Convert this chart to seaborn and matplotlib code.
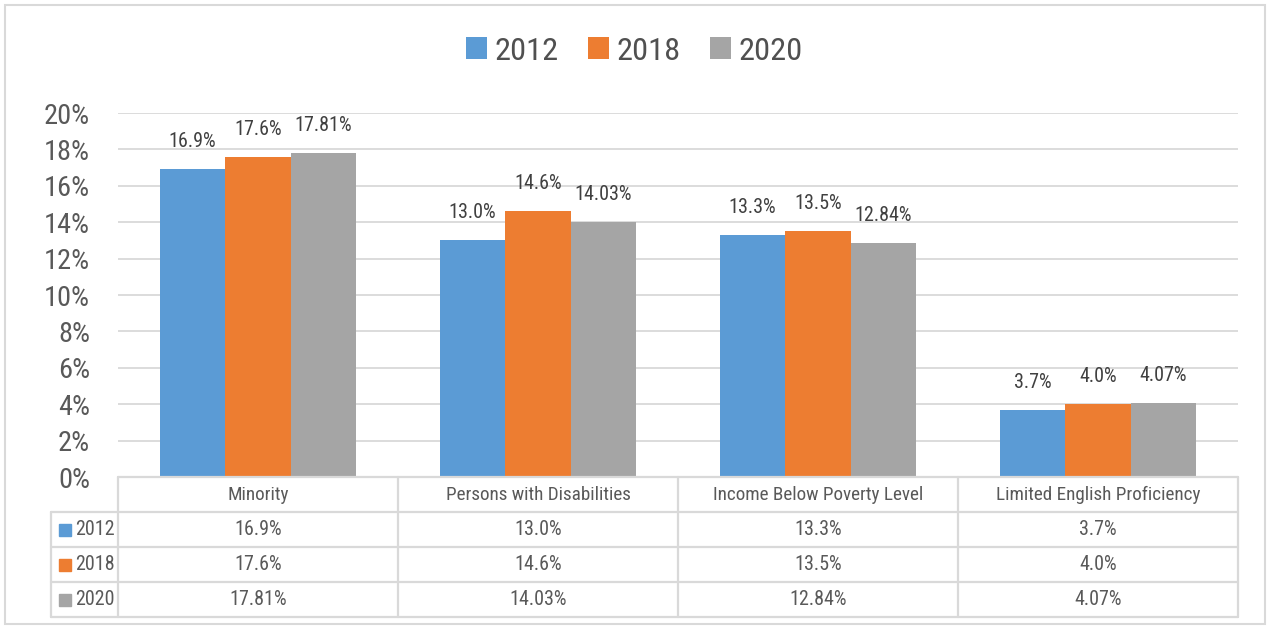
import numpy as np
import pandas as pd
import seaborn as sns
import matplotlib
matplotlib.use("Agg")
import matplotlib.pyplot as plt
from matplotlib import font_manager
from matplotlib.lines import Line2D
from matplotlib.patches import Rectangle, Patch
from matplotlib.transforms import blended_transform_factory

# ---- data ----
categories = ["Minority", "Persons with Disabilities", "Income Below Poverty Level",
              "Limited English Proficiency"]
years = ["2012", "2018", "2020"]
values_2012 = [16.9, 13.0, 13.3, 3.7]
values_2018 = [17.6, 14.6, 13.5, 4.0]
values_2020 = [17.81, 14.03, 12.84, 4.07]
decimals = [1, 1, 2]
yticks = [0, 2, 4, 6, 8, 10, 12, 14, 16, 18, 20]
colors = ["#5B9BD5", "#ED7D31", "#A5A5A5"]

series = [values_2012, values_2018, values_2020]
df = pd.DataFrame({
    "category": np.repeat([categories], 3, axis=0).ravel(),
    "year": np.repeat(years, len(categories)),
    "value": np.concatenate(series),
})

sns.set_theme(style="white")

# choose the narrowest installed sans font
FONT, STRETCH, K = "Roboto", "normal", 1.0
ttf = font_manager.fontManager.ttflist
names = {f.name for f in ttf}
for cand in ["Liberation Sans Narrow", "Roboto Condensed", "Open Sans Condensed",
             "Noto Sans Condensed", "DejaVu Sans Condensed"]:
    if cand in names:
        FONT, K = cand, 1.2
        break
plt.rcParams["font.family"] = [FONT, "DejaVu Sans"]
plt.rcParams["font.stretch"] = STRETCH

W, H = 1269, 628
DPI = 100
fig = plt.figure(figsize=(W / DPI, H / DPI), dpi=DPI)


def fx(p):
    return p / W


def fy(p):
    return 1 - p / H


TXT = "#595959"
L, R, T, B = 118, 1238, 113, 477
ax = fig.add_axes([fx(L), fy(B), fx(R - L), (B - T) / H])

sns.barplot(data=df, x="category", y="value", hue="year", palette=colors,
            width=0.70, gap=0, saturation=1, ax=ax, legend=False,
            edgecolor="none", linewidth=0)

ax.set_ylim(0, 20)
ax.set_xlim(-0.5, len(categories) - 0.5)
ax.set_yticks(yticks)
ax.set_yticklabels([f"{t}%" for t in yticks], fontsize=17 * K, color=TXT)
ax.tick_params(axis="y", length=0, pad=20)
ax.set_xticks([])
ax.set_xlabel("")
ax.set_ylabel("")
for s in ax.spines.values():
    s.set_visible(False)
ax.grid(axis="y", color="#D9D9D9", linewidth=1.3)
ax.set_axisbelow(True)

# bar value labels
for cont, vals, d in zip(ax.containers, series, decimals):
    ax.bar_label(cont, labels=[f"{v:.{d}f}%" for v in vals], padding=13,
                 fontsize=12 * K, color="#404040")

# ---- data table ----
grid_c = "#D9D9D9"
bt = blended_transform_factory(ax.transData, fig.transFigure)
row_h = 35
bottom = B + 4 * row_h
left_col = 51


def hline(x0, x1, y):
    fig.add_artist(Line2D([fx(x0), fx(x1)], [fy(y), fy(y)], color=grid_c, lw=1.6,
                          transform=fig.transFigure))


def vline(x, y0, y1):
    fig.add_artist(Line2D([fx(x), fx(x)], [fy(y0), fy(y1)], color=grid_c, lw=1.6,
                          transform=fig.transFigure))


hline(L, R, B)
for r in range(1, 5):
    hline(left_col, R, B + r * row_h)
for i in range(len(categories) + 1):
    vline(L + i * (R - L) / len(categories), B, bottom)
vline(left_col, B + row_h, bottom)

for i, c in enumerate(categories):
    fig.text(i, fy(B + row_h / 2), c, transform=bt, ha="center", va="center",
             fontsize=11.5 * K, color=TXT)
for r, (yr, vals, d, col) in enumerate(zip(years, series, decimals, colors)):
    yc = B + row_h * (r + 1.5)
    for i, v in enumerate(vals):
        fig.text(i, fy(yc), f"{v:.{d}f}%", transform=bt, ha="center", va="center",
                 fontsize=12 * K, color=TXT)
    fig.add_artist(Rectangle((fx(59), fy(yc + 6)), fx(12), 12 / H, color=col,
                             transform=fig.transFigure))
    fig.text(fx(75), fy(yc), yr, ha="left", va="center", fontsize=12 * K, color=TXT)

# ---- top legend ----
LEG_FS = 19.5 * K
fs_px = LEG_FS * DPI / 72
handles = [Patch(facecolor=c, edgecolor="none") for c in colors]
fig.legend(handles, years, loc="center", bbox_to_anchor=(0.5, fy(51)), ncol=3,
           frameon=False, fontsize=LEG_FS, handlelength=21 / fs_px,
           handleheight=21 / fs_px, handletextpad=8 / fs_px,
           columnspacing=29 / fs_px, labelcolor="#505050", borderaxespad=0,
           borderpad=0)

# outer border
fig.add_artist(Rectangle((fx(5), fy(624)), fx(1260), 619 / H, fill=False,
                         edgecolor="#D9D9D9", lw=1.5, transform=fig.transFigure))

fig.savefig("out.png", dpi=DPI)
